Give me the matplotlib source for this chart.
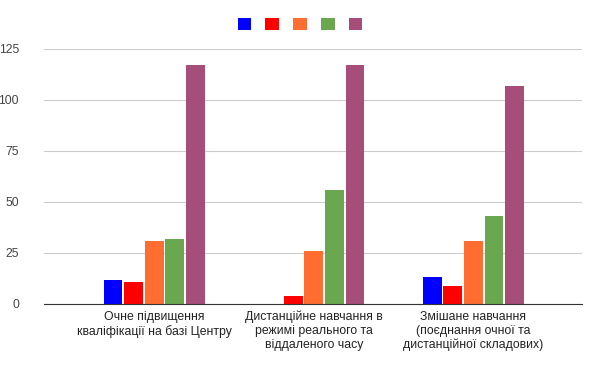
import numpy as np
import matplotlib.pyplot as plt

plt.rcParams['font.family'] = ['Liberation Sans', 'DejaVu Sans']

# Дані
categories = ['Очне підвищення\nкваліфікації на базі Центру',
              'Дистанційне навчання в\nрежимі реального та\nвіддаленого часу',
              'Змішане навчання\n(поєднання очної та\nдистанційної складових)']
series_names = ['', '', '', '', '']
blue = [12, 0, 13]
red = [11, 4, 9]
orange = [31, 26, 31]
green = [32, 56, 43]
purple = [117, 117, 107]
colors = ['#0000ff', '#ff0000', '#ff6d31', '#6aa84f', '#a64d79']
y_ticks = [0, 25, 50, 75, 100, 125]

fig = plt.figure(figsize=(6, 3.71), dpi=100)
ax = fig.add_axes([0.0733, 0.1806, 0.8967, 0.6874])

x = np.arange(len(categories))
slot = 0.129
width = 0.118
handles = []
for i, (vals, c) in enumerate(zip([blue, red, orange, green, purple], colors)):
    b = ax.bar(x + (i - 2) * slot, vals, width, color=c, zorder=3)
    handles.append(b)

ax.set_xlim(-0.69, 2.68)
ax.set_ylim(0, 125)
ax.set_yticks(y_ticks)
ax.set_xticks(x)
ax.set_xticklabels(categories, fontsize=8.8, color='#222222', linespacing=1.2)
ax.tick_params(axis='y', labelsize=8.7, labelcolor='#444444', length=0, pad=18)
ax.tick_params(axis='x', length=0, pad=5)
ax.grid(axis='y', color='#cccccc', linewidth=0.8, zorder=0)
for s in ['top', 'right', 'left']:
    ax.spines[s].set_visible(False)
ax.spines['bottom'].set_color('#333333')
ax.spines['bottom'].set_zorder(4)

fig.legend(handles, series_names, loc='center', bbox_to_anchor=(0.5, 0.933),
           ncol=5, frameon=False, handlelength=1.1, handleheight=1.1,
           handletextpad=0, columnspacing=1.12, fontsize=9)

fig.savefig('out.png', dpi=100)
